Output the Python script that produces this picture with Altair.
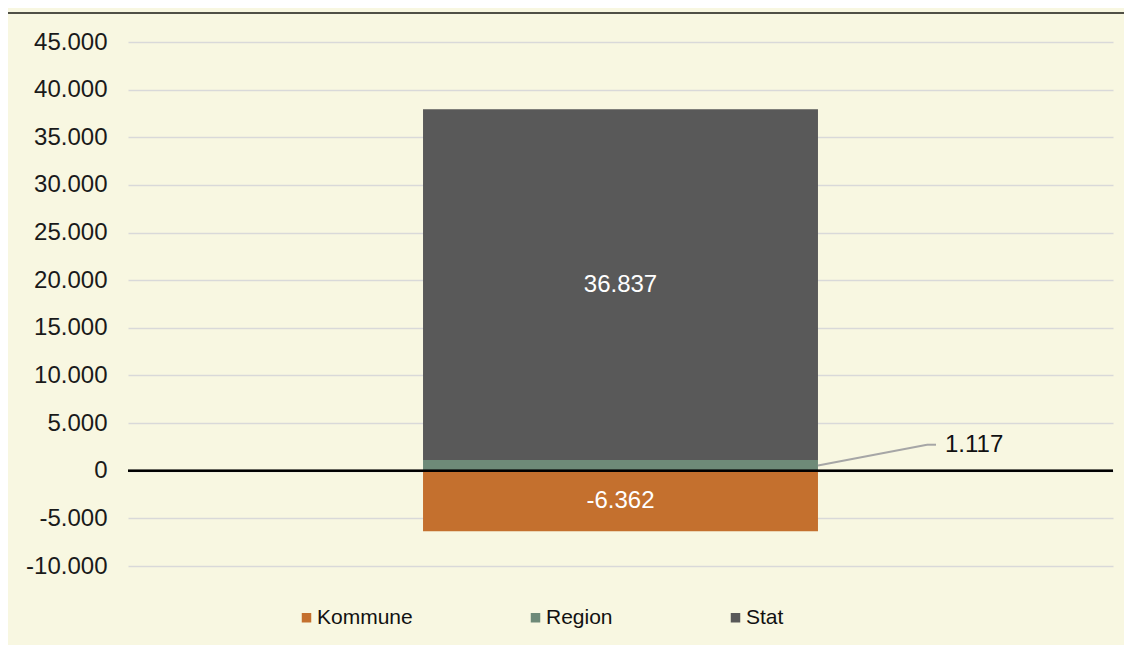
import altair as alt
import pandas as pd

# ---- data ----
group = "Total"
parts = ["Kommune", "Region", "Stat"]
values = [-6362, 1117, 36837]
stack_order = [0, 1, 2]
colors = ["#C4702E", "#6E8A78", "#595959"]
y_ticks = [-10000, -5000, 0, 5000, 10000, 15000, 20000, 25000, 30000, 35000, 40000, 45000]
y_domain = [-10000, 45000]
region_label_y = 2730  # data height where the Region call-out sits

df = pd.DataFrame({"group": group, "part": parts, "value": values, "order": stack_order})

FONT = "Liberation Sans"
BG = "#F8F7E1"
W, H = 985, 524

xscale = alt.Scale(paddingInner=0, paddingOuter=0.747)
yscale = alt.Scale(domain=y_domain, nice=False)
base = alt.Chart(df)

bars = base.mark_bar().encode(
    x=alt.X("group:N", scale=xscale, axis=None),
    y=alt.Y(
        "value:Q",
        stack="zero",
        scale=yscale,
        title=None,
        axis=alt.Axis(
            values=y_ticks,
            format=",d",
            labelFont=FONT,
            labelFontSize=24,
            labelColor="#1a1a1a",
            labelPadding=21,
            ticks=False,
            domain=False,
            grid=True,
            gridColor="#D9D9D9",
            gridWidth=1.5,
        ),
    ),
    color=alt.Color(
        "part:N",
        scale=alt.Scale(domain=parts, range=colors),
        legend=alt.Legend(
            title=None,
            orient="none",
            direction="horizontal",
            legendX=168,
            legendY=565,
            symbolType="square",
            symbolSize=90,
            symbolStrokeWidth=0,
            labelFont=FONT,
            labelFontSize=21,
            labelColor="#111111",
            labelOffset=0,
            columnPadding=112,
        ),
    ),
    order=alt.Order("order:Q", sort="ascending"),
)

stacked = base.transform_stack(
    stack="value",
    groupby=["group"],
    as_=["v0", "v1"],
    sort=[alt.SortField("order", order="ascending")],
).transform_calculate(mid="(datum.v0 + datum.v1) / 2")

inner_labels = stacked.transform_filter("datum.part != 'Region'").mark_text(
    color="white", font=FONT, fontSize=24, baseline="middle"
).encode(
    x=alt.X("group:N", scale=xscale, axis=None),
    y=alt.Y("mid:Q", scale=yscale),
    text=alt.Text("value:Q", format=",d"),
)

region = stacked.transform_filter("datum.part == 'Region'")

leader = region.mark_rule(color="#A6A6A6", strokeWidth=2).encode(
    x=alt.X("group:N", scale=xscale, axis=None, bandPosition=1),
    x2=alt.value(799),
    y=alt.Y("mid:Q", scale=yscale),
    y2=alt.datum(region_label_y),
)
leader_tail = region.mark_rule(color="#A6A6A6", strokeWidth=2).encode(
    x=alt.value(799),
    x2=alt.value(808),
    y=alt.datum(region_label_y),
)
region_label = region.mark_text(
    color="#111111", font=FONT, fontSize=24, align="left", baseline="middle", dx=127
).encode(
    x=alt.X("group:N", scale=xscale, axis=None, bandPosition=1),
    y=alt.datum(region_label_y),
    text=alt.Text("value:Q", format=",d"),
)

zero_line = alt.Chart(df).mark_rule(color="black", strokeWidth=2).encode(
    y=alt.datum(0)
)

top_line = alt.Chart(df).mark_rule(color="#505046", strokeWidth=2).encode(
    x=alt.value(-120), x2=alt.value(996), y=alt.value(-29)
)

chart = (
    alt.layer(bars, inner_labels, leader, leader_tail, region_label, zero_line, top_line)
    .properties(
        width=W,
        height=H,
        padding={"left": 120, "top": 34, "right": 11, "bottom": 79},
        autosize=alt.AutoSizeParams(type="none"),
        background=BG,
    )
    .configure(
        locale={
            "number": {
                "decimal": ",",
                "thousands": ".",
                "grouping": [3],
                "currency": ["", " €"],
                "minus": "-",
            }
        },
        view={"stroke": None},
    )
)

chart.save("out.html", embed_options={"renderer": "svg", "actions": False})
